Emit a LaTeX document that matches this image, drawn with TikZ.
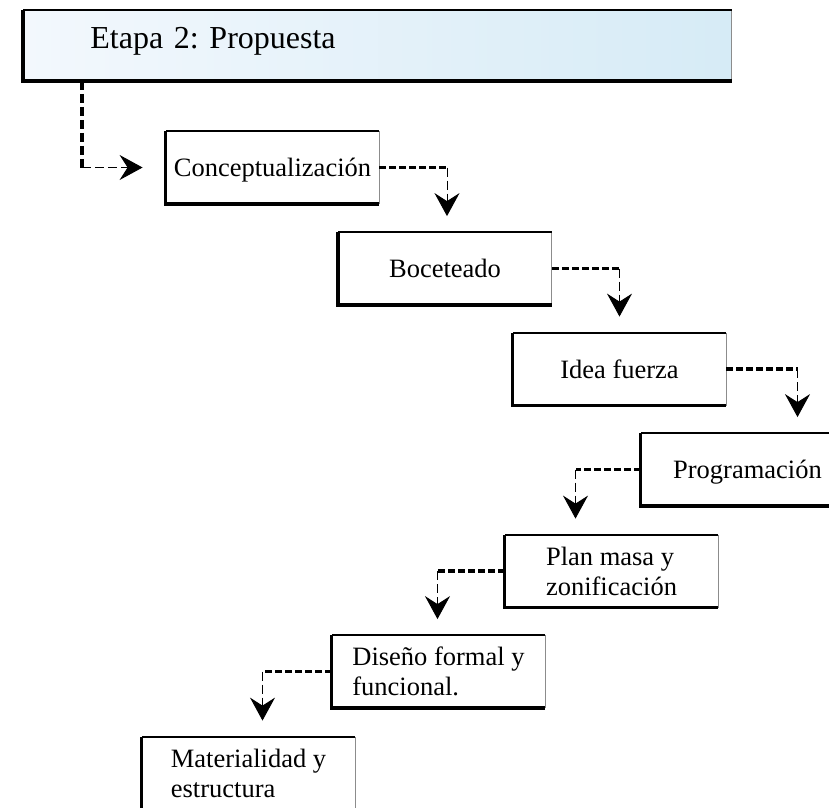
\documentclass[tikz,border=0pt]{standalone}
\usepackage{fontspec}
\setmainfont{Liberation Serif}
\usetikzlibrary{arrows.meta,calc}
\frenchspacing
\definecolor{hdrleft}{RGB}{243,248,253}
\definecolor{hdrright}{RGB}{214,235,246}
\definecolor{edgegray}{RGB}{140,140,140}
\tikzset{
  hdrbox/.style={draw=edgegray, line width=0.8pt, left color=hdrleft, right color=hdrright,
                 anchor=north west, minimum width=708pt, minimum height=70pt,
                 text width=574pt, inner xsep=67pt, inner ysep=0pt, align=left,
                 text height=21pt, text depth=15pt, font=\fontsize{32pt}{36pt}\selectfont},
  stepbox/.style={draw=edgegray, line width=0.8pt, fill=white, inner sep=0pt,
                  minimum width=213pt, minimum height=72pt,
                  font=\fontsize{26.5pt}{30pt}\selectfont},
  oneline/.style={stepbox, text height=18pt, text depth=0pt},
  twoline/.style={stepbox, align=left},
  legout/.style={line width=3.4pt, dash pattern=on 7pt off 3pt},
  legdown/.style={line width=1pt, dash pattern=on 9pt off 4pt, shorten >=16pt,
                  -{Stealth[length=23pt, width=25pt, inset=8pt]}},
}

\begin{document}
\begin{tikzpicture}[x=1pt, y=-1pt]
  \useasboundingbox (0,0) rectangle (829,807);
  \begin{scope}
  \clip (0,0) rectangle (829,807);
  \node[hdrbox] (hdr) at (23,10) {Etapa 2: Propuesta};
  \draw[line width=2.4pt] (hdr.north east) -- (hdr.north west);
  \draw[line width=4.5pt] (hdr.north west) -- (hdr.south west) -- (hdr.south east);

  \node[oneline] (c1) at (272.5,167.5) {Conceptualización};
  \node[oneline] (c2) at (445,268.5) {Boceteado};
  \node[oneline] (c3) at (619.5,369) {Idea fuerza};
  \node[oneline] (c4) at (747.5,469.5) {Programación};
  \node[twoline] (c5) at (611.5,571) {Plan masa y\\ zonificación};
  \node[twoline] (c6) at (438.5,671.5) {Diseño formal y\\ funcional.};
  \node[twoline] (c7) at (248.5,773) {Materialidad y\\ estructura};

  \foreach \n in {c1,c2,c3,c4,c5,c6,c7}{
    \draw[line width=1.8pt] (\n.north east) -- (\n.north west);
    \draw[line width=3.4pt] (\n.north west) -- (\n.south west) -- (\n.south east);
  }

  \coordinate (start) at ([xshift=59pt]hdr.south west);
  \draw[legout, dash pattern=on 9pt off 4pt] (start) -- (start |- c1.west);
  \draw[legdown, shorten >=23pt] (start |- c1.west) -- (c1.west);

  \foreach \a/\side/\b/\dx in {c1/east/c2/2, c2/east/c3/0, c3/east/c4/50,
                               c4/west/c5/-36, c5/west/c6/-1, c6/west/c7/14}{
    \coordinate (drop) at ([xshift=\dx pt]\b.north);
    \draw[legout] (\a.\side) -- (\a.\side -| drop);
    \draw[legdown] (\a.\side -| drop) -- (drop);
  }
  \end{scope}
\end{tikzpicture}
\end{document}
